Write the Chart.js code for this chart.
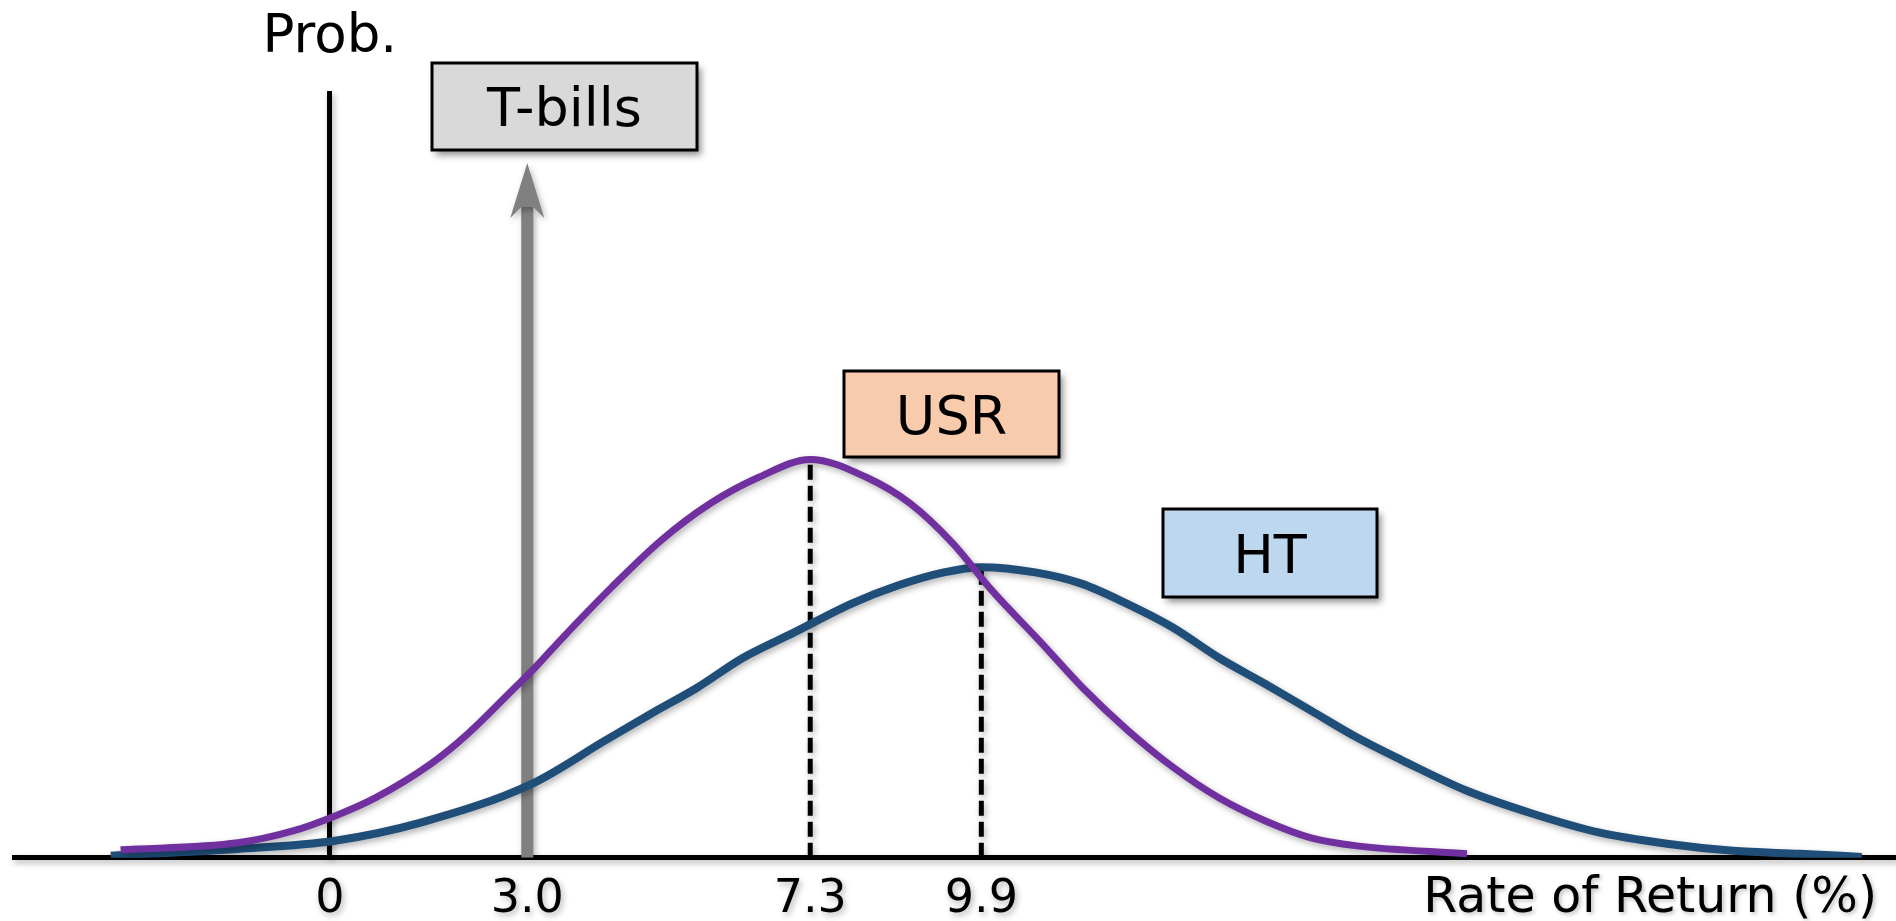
<!DOCTYPE html>
<html>
<head>
<meta charset="utf-8">
<title>Rate of Return distributions</title>
<script src="https://cdn.jsdelivr.net/npm/chart.js@4.4.1/dist/chart.umd.min.js"></script>
<style>
  html, body { margin: 0; padding: 0; background: #ffffff; }
  #wrap { width: 1896px; height: 921px; }
</style>
</head>
<body>
<div id="wrap"><canvas id="chart" width="1896" height="921"></canvas></div>
<script>
// ---- data ----
const rateTicks = [0, 3.0, 7.3, 9.9];
const rateTickLabels = ['0', '3.0', '7.3', '9.9'];

const usrReturns = [-3.18, -1.40, -0.56, 0.08, 0.69, 1.54, 2.10, 2.81, 3.12, 3.54, 4.28, 5.03, 5.78, 6.51, 7.3,
                    8.16, 8.82, 9.47, 10.06, 10.78, 11.44, 12.13, 12.82, 13.51, 14.21, 14.91, 15.61, 17.28];
const usrProb    = [0.0026, 0.0049, 0.0088, 0.0137, 0.0196, 0.0308, 0.0406, 0.0556, 0.0622, 0.0720, 0.0884, 0.1037, 0.1158, 0.1243, 0.1302,
                    0.1243, 0.1158, 0.1027, 0.0874, 0.0710, 0.0556, 0.0416, 0.0295, 0.0196, 0.0121, 0.0065, 0.0039, 0.0013];

const htReturns = [-3.33, -1.40, 0.08, 1.38, 3.07, 4.18, 4.88, 5.58, 6.28, 7.05, 7.93, 8.63, 9.33, 9.9, 10.72,
                   11.41, 12.11, 12.81, 13.51, 14.21, 14.91, 15.61, 16.31, 17.28, 18.28, 19.30, 20.32, 21.32, 22.34, 23.28];
const htProb    = [0.0007, 0.0029, 0.0056, 0.0115, 0.0242, 0.0383, 0.0471, 0.0556, 0.0654, 0.0736, 0.0831, 0.0890, 0.0933, 0.0950, 0.0933,
                   0.0897, 0.0831, 0.0753, 0.0654, 0.0569, 0.0481, 0.0393, 0.0317, 0.0219, 0.0144, 0.0082, 0.0046, 0.0023, 0.0013, 0.0003];

const seriesNames = ['T-bills', 'USR', 'HT'];
const tbillRate = 3.0;       // certain return, drawn as an arrow
const tbillArrowTop = 0.2127;
const usrMean = 7.3;
const htMean = 9.9;

// ---- helpers ----
const FONT = "'DejaVu Sans', Verdana, sans-serif";
const toPoints = (xs, ys) => xs.map((x, i) => ({ x: x, y: ys[i] }));
const probAt = (xs, ys, x) => ys[xs.indexOf(x)];

const usrPeak = probAt(usrReturns, usrProb, usrMean);
const htPeak = probAt(htReturns, htProb, htMean);

// callout boxes, anchored in data units (centre), sized in pixels
const calloutBoxes = [
  { text: seriesNames[0], x: 3.565, y: 0.2456, w: 265, h: 87, fill: '#d9d9d9' },
  { text: seriesNames[1], x: 9.447, y: 0.1450, w: 215, h: 86, fill: '#f8cbad' },
  { text: seriesNames[2], x: 14.287, y: 0.0995, w: 214, h: 88, fill: '#bdd7ee' }
];

// soft drop shadow under everything that the chart draws
const softShadow = {
  id: 'softShadow',
  beforeDraw(chart) {
    const ctx = chart.ctx;
    ctx.save();
    ctx.shadowColor = 'rgba(0,0,0,0.3)';
    ctx.shadowBlur = 6;
    ctx.shadowOffsetX = 2;
    ctx.shadowOffsetY = 3;
  },
  afterDraw(chart) {
    chart.ctx.restore();
  }
};

// arrow head on top of the T-bills shaft
const arrowHead = {
  id: 'arrowHead',
  afterDatasetsDraw(chart) {
    const idx = chart.data.datasets.findIndex(d => d.label === seriesNames[0]);
    const meta = chart.getDatasetMeta(idx);
    const top = meta.data[meta.data.length - 1];
    const ctx = chart.ctx;
    const x = top.x, y = top.y;
    ctx.save();
    ctx.fillStyle = '#808080';
    ctx.beginPath();
    ctx.moveTo(x, y - 44);
    ctx.lineTo(x + 17, y + 11);
    ctx.lineTo(x + 6, y);
    ctx.lineTo(x - 6, y);
    ctx.lineTo(x - 17, y + 11);
    ctx.closePath();
    ctx.fill();
    ctx.restore();
  }
};

// series name callouts, axis captions
const captions = {
  id: 'captions',
  afterDraw(chart) {
    const ctx = chart.ctx;
    const xs = chart.scales.x, ys = chart.scales.y;
    ctx.save();
    ctx.shadowColor = 'rgba(0,0,0,0)';
    calloutBoxes.forEach(b => {
      const cx = xs.getPixelForValue(b.x);
      const cy = ys.getPixelForValue(b.y);
      const l = Math.round(cx - b.w / 2), t = Math.round(cy - b.h / 2);
      ctx.save();
      ctx.shadowColor = 'rgba(0,0,0,0.45)';
      ctx.shadowBlur = 7;
      ctx.shadowOffsetX = 4;
      ctx.shadowOffsetY = 5;
      ctx.fillStyle = b.fill;
      ctx.fillRect(l, t, b.w, b.h);
      ctx.restore();
      ctx.lineWidth = 3;
      ctx.strokeStyle = '#000000';
      ctx.strokeRect(l, t, b.w, b.h);
      ctx.fillStyle = '#000000';
      ctx.font = '54px ' + FONT;
      ctx.textAlign = 'center';
      ctx.textBaseline = 'alphabetic';
      ctx.fillText(b.text, cx, cy + 20);
    });
    // vertical axis caption above the y axis
    ctx.font = '53px ' + FONT;
    ctx.textAlign = 'center';
    ctx.textBaseline = 'alphabetic';
    ctx.fillText('Prob.', xs.getPixelForValue(0), 52);
    // horizontal axis caption at the right end, level with the tick labels
    ctx.save();
    ctx.shadowColor = 'rgba(0,0,0,0.25)';
    ctx.shadowBlur = 4;
    ctx.shadowOffsetX = 2;
    ctx.shadowOffsetY = 2;
    ctx.font = '49px ' + FONT;
    ctx.textAlign = 'right';
    ctx.fillText('Rate of Return (%)', 1877, 912);
    ctx.restore();
    ctx.restore();
  }
};

const ctx = document.getElementById('chart').getContext('2d');
new Chart(ctx, {
  type: 'line',
  data: {
    datasets: [
      {
        label: seriesNames[1],
        data: toPoints(usrReturns, usrProb),
        borderColor: '#7030a0',
        borderWidth: 7,
        pointRadius: 0,
        cubicInterpolationMode: 'monotone',
        fill: false
      },
      {
        label: seriesNames[2],
        data: toPoints(htReturns, htProb),
        borderColor: '#1f4e79',
        borderWidth: 8,
        pointRadius: 0,
        cubicInterpolationMode: 'monotone',
        fill: false
      },
      {
        label: seriesNames[1] + ' mean',
        data: [{ x: usrMean, y: 0 }, { x: usrMean, y: usrPeak }],
        borderColor: '#000000',
        borderWidth: 5,
        borderDash: [15, 6],
        pointRadius: 0
      },
      {
        label: seriesNames[2] + ' mean',
        data: [{ x: htMean, y: 0 }, { x: htMean, y: htPeak }],
        borderColor: '#000000',
        borderWidth: 5,
        borderDash: [15, 6],
        pointRadius: 0
      },
      {
        label: seriesNames[0],
        data: [{ x: tbillRate, y: 0 }, { x: tbillRate, y: tbillArrowTop }],
        borderColor: '#808080',
        borderWidth: 12,
        pointRadius: 0
      }
    ]
  },
  options: {
    responsive: false,
    animation: false,
    devicePixelRatio: 1,
    layout: { padding: { top: 93, left: 14, right: 0, bottom: -22 } },
    plugins: {
      legend: { display: false },
      tooltip: { enabled: false },
      title: { display: false }
    },
    scales: {
      x: {
        type: 'linear',
        min: -4.8,
        max: 23.8,
        grid: { display: false, drawTicks: false },
        border: { display: true, color: '#000000', width: 5 },
        afterBuildTicks(scale) {
          scale.ticks = rateTicks.map(v => ({ value: v }));
        },
        ticks: {
          autoSkip: false,
          maxRotation: 0,
          padding: 15,
          color: '#000000',
          font: { family: FONT, size: 46 },
          callback: (value, index) => rateTickLabels[index]
        }
      },
      y: {
        type: 'linear',
        min: 0,
        max: 0.25,
        position: { x: 0 },
        grid: { display: false, drawTicks: false },
        border: { display: true, color: '#000000', width: 5 },
        ticks: { display: false }
      }
    }
  },
  plugins: [softShadow, arrowHead, captions]
});
</script>
</body>
</html>
